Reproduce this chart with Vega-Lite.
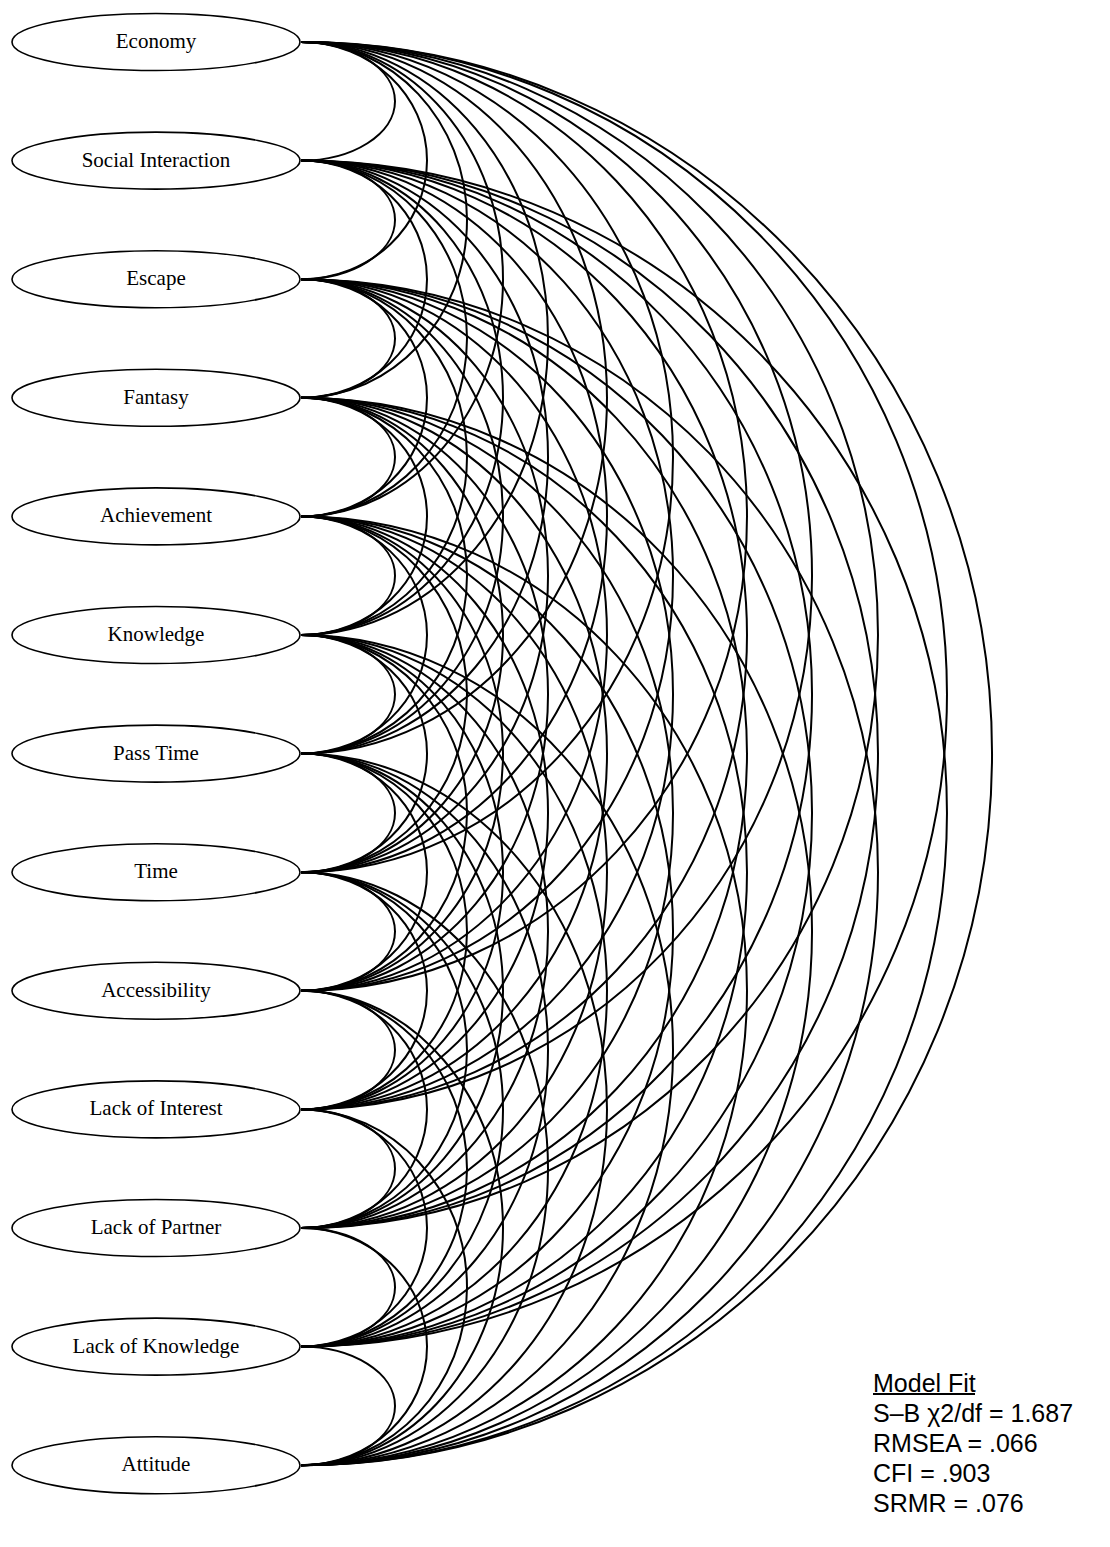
{
  "$schema": "https://vega.github.io/schema/vega-lite/v6.json",
  "width": 1110,
  "height": 1547,
  "padding": 0,
  "autosize": {"type": "none"},
  "background": "white",
  "config": {"view": {"stroke": null}},
  "datasets": {
    "nodes": [
      {"rank": 1, "name": "Economy"},
      {"rank": 2, "name": "Social Interaction"},
      {"rank": 3, "name": "Escape"},
      {"rank": 4, "name": "Fantasy"},
      {"rank": 5, "name": "Achievement"},
      {"rank": 6, "name": "Knowledge"},
      {"rank": 7, "name": "Pass Time"},
      {"rank": 8, "name": "Time"},
      {"rank": 9, "name": "Accessibility"},
      {"rank": 10, "name": "Lack of Interest"},
      {"rank": 11, "name": "Lack of Partner"},
      {"rank": 12, "name": "Lack of Knowledge"},
      {"rank": 13, "name": "Attitude"}
    ],
    "arcs": [
      {"from":1,"to":2,"mid":1.5,"span":1},{"from":1,"to":3,"mid":2,"span":2},{"from":1,"to":4,"mid":2.5,"span":3},{"from":1,"to":5,"mid":3,"span":4},{"from":1,"to":6,"mid":3.5,"span":5},{"from":1,"to":7,"mid":4,"span":6},{"from":1,"to":8,"mid":4.5,"span":7},{"from":1,"to":9,"mid":5,"span":8},{"from":1,"to":10,"mid":5.5,"span":9},{"from":1,"to":11,"mid":6,"span":10},{"from":1,"to":12,"mid":6.5,"span":11},{"from":1,"to":13,"mid":7,"span":12},
      {"from":2,"to":3,"mid":2.5,"span":1},{"from":2,"to":4,"mid":3,"span":2},{"from":2,"to":5,"mid":3.5,"span":3},{"from":2,"to":6,"mid":4,"span":4},{"from":2,"to":7,"mid":4.5,"span":5},{"from":2,"to":8,"mid":5,"span":6},{"from":2,"to":9,"mid":5.5,"span":7},{"from":2,"to":10,"mid":6,"span":8},{"from":2,"to":11,"mid":6.5,"span":9},{"from":2,"to":12,"mid":7,"span":10},{"from":2,"to":13,"mid":7.5,"span":11},
      {"from":3,"to":4,"mid":3.5,"span":1},{"from":3,"to":5,"mid":4,"span":2},{"from":3,"to":6,"mid":4.5,"span":3},{"from":3,"to":7,"mid":5,"span":4},{"from":3,"to":8,"mid":5.5,"span":5},{"from":3,"to":9,"mid":6,"span":6},{"from":3,"to":10,"mid":6.5,"span":7},{"from":3,"to":11,"mid":7,"span":8},{"from":3,"to":12,"mid":7.5,"span":9},{"from":3,"to":13,"mid":8,"span":10},
      {"from":4,"to":5,"mid":4.5,"span":1},{"from":4,"to":6,"mid":5,"span":2},{"from":4,"to":7,"mid":5.5,"span":3},{"from":4,"to":8,"mid":6,"span":4},{"from":4,"to":9,"mid":6.5,"span":5},{"from":4,"to":10,"mid":7,"span":6},{"from":4,"to":11,"mid":7.5,"span":7},{"from":4,"to":12,"mid":8,"span":8},{"from":4,"to":13,"mid":8.5,"span":9},
      {"from":5,"to":6,"mid":5.5,"span":1},{"from":5,"to":7,"mid":6,"span":2},{"from":5,"to":8,"mid":6.5,"span":3},{"from":5,"to":9,"mid":7,"span":4},{"from":5,"to":10,"mid":7.5,"span":5},{"from":5,"to":11,"mid":8,"span":6},{"from":5,"to":12,"mid":8.5,"span":7},{"from":5,"to":13,"mid":9,"span":8},
      {"from":6,"to":7,"mid":6.5,"span":1},{"from":6,"to":8,"mid":7,"span":2},{"from":6,"to":9,"mid":7.5,"span":3},{"from":6,"to":10,"mid":8,"span":4},{"from":6,"to":11,"mid":8.5,"span":5},{"from":6,"to":12,"mid":9,"span":6},{"from":6,"to":13,"mid":9.5,"span":7},
      {"from":7,"to":8,"mid":7.5,"span":1},{"from":7,"to":9,"mid":8,"span":2},{"from":7,"to":10,"mid":8.5,"span":3},{"from":7,"to":11,"mid":9,"span":4},{"from":7,"to":12,"mid":9.5,"span":5},{"from":7,"to":13,"mid":10,"span":6},
      {"from":8,"to":9,"mid":8.5,"span":1},{"from":8,"to":10,"mid":9,"span":2},{"from":8,"to":11,"mid":9.5,"span":3},{"from":8,"to":12,"mid":10,"span":4},{"from":8,"to":13,"mid":10.5,"span":5},
      {"from":9,"to":10,"mid":9.5,"span":1},{"from":9,"to":11,"mid":10,"span":2},{"from":9,"to":12,"mid":10.5,"span":3},{"from":9,"to":13,"mid":11,"span":4},
      {"from":10,"to":11,"mid":10.5,"span":1},{"from":10,"to":12,"mid":11,"span":2},{"from":10,"to":13,"mid":11.5,"span":3},
      {"from":11,"to":12,"mid":11.5,"span":1},{"from":11,"to":13,"mid":12,"span":2},
      {"from":12,"to":13,"mid":12.5,"span":1}
    ]
  },
  "layer": [
    {
      "data": {"name": "arcs"},
      "mark": {"type": "point", "filled": false, "stroke": "black", "strokeWidth": 2, "opacity": 1, "fill": null},
      "encoding": {
        "x": {"datum": 301, "type": "quantitative", "scale": {"domain": [0, 1110], "range": [0, 1110], "nice": false, "zero": false}, "axis": null},
        "y": {"field": "mid", "type": "quantitative", "scale": {"domain": [0.64587, 13.68971], "range": [0, 1547], "nice": false, "zero": false}, "axis": null},
        "shape": {
          "field": "span", "type": "ordinal", "legend": null,
          "scale": {
            "domain": [1, 2, 3, 4, 5, 6, 7, 8, 9, 10, 11, 12],
            "range": [
              "M0,-1C0.8755,-1 1.5852,-0.5523 1.5852,0C1.5852,0.5523 0.8755,1 0,1",
              "M0,-1C0.5868,-1 1.0624,-0.5523 1.0624,0C1.0624,0.5523 0.5868,1 0,1",
              "M0,-1C0.5154,-1 0.9331,-0.5523 0.9331,0C0.9331,0.5523 0.5154,1 0,1",
              "M0,-1C0.4703,-1 0.8516,-0.5523 0.8516,0C0.8516,0.5523 0.4703,1 0,1",
              "M0,-1C0.4601,-1 0.8331,-0.5523 0.8331,0C0.8331,0.5523 0.4601,1 0,1",
              "M0,-1C0.4750,-1 0.8600,-0.5523 0.8600,0C0.8600,0.5523 0.4750,1 0,1",
              "M0,-1C0.4950,-1 0.8962,-0.5523 0.8962,0C0.8962,0.5523 0.4950,1 0,1",
              "M0,-1C0.5192,-1 0.9401,-0.5523 0.9401,0C0.9401,0.5523 0.5192,1 0,1",
              "M0,-1C0.5288,-1 0.9575,-0.5523 0.9575,0C0.9575,0.5523 0.5288,1 0,1",
              "M0,-1C0.5374,-1 0.9730,-0.5523 0.9730,0C0.9730,0.5523 0.5374,1 0,1",
              "M0,-1C0.5469,-1 0.9903,-0.5523 0.9903,0C0.9903,0.5523 0.5469,1 0,1",
              "M0,-1C0.5363,-1 0.9711,-0.5523 0.9711,0C0.9711,0.5523 0.5363,1 0,1"
            ]
          }
        },
        "size": {"field": "span", "type": "quantitative", "legend": null, "scale": {"type": "pow", "exponent": 2, "domain": [0, 12], "range": [0, 2025498], "zero": true, "nice": false}}
      }
    },
    {
      "data": {"name": "nodes"},
      "mark": {
        "type": "point", "filled": true, "fill": "white", "stroke": "black", "strokeWidth": 1.6, "opacity": 1, "size": 82944,
        "shape": "M-1,0C-1,-0.1094 -0.5523,-0.198 0,-0.198C0.5523,-0.198 1,-0.1094 1,0C1,0.1094 0.5523,0.198 0,0.198C-0.5523,0.198 -1,0.1094 -1,0Z"
      },
      "encoding": {
        "x": {"datum": 156, "type": "quantitative"},
        "y": {"field": "rank", "type": "quantitative"}
      }
    },
    {
      "data": {"name": "nodes"},
      "mark": {"type": "text", "font": "Liberation Serif", "fontSize": 21, "color": "black", "align": "center", "baseline": "middle"},
      "encoding": {
        "x": {"datum": 156, "type": "quantitative"},
        "y": {"field": "rank", "type": "quantitative"},
        "text": {"field": "name", "type": "nominal"}
      }
    },
    {
      "data": {"values": [{"block": "fit"}]},
      "mark": {
        "type": "text", "font": "Liberation Sans", "fontSize": 25, "lineHeight": 30, "color": "black", "align": "left", "baseline": "alphabetic",
        "text": ["Model Fit", "S–B χ2/df = 1.687", "RMSEA = .066", "CFI = .903", "SRMR = .076"]
      },
      "encoding": {
        "x": {"datum": 873, "type": "quantitative"},
        "y": {"datum": 12.383, "type": "quantitative"}
      }
    },
    {
      "data": {"values": [{"block": "underline"}]},
      "mark": {"type": "rule", "color": "black", "strokeWidth": 2},
      "encoding": {
        "x": {"datum": 873, "type": "quantitative"},
        "x2": {"datum": 975},
        "y": {"datum": 12.4, "type": "quantitative"}
      }
    }
  ]
}
